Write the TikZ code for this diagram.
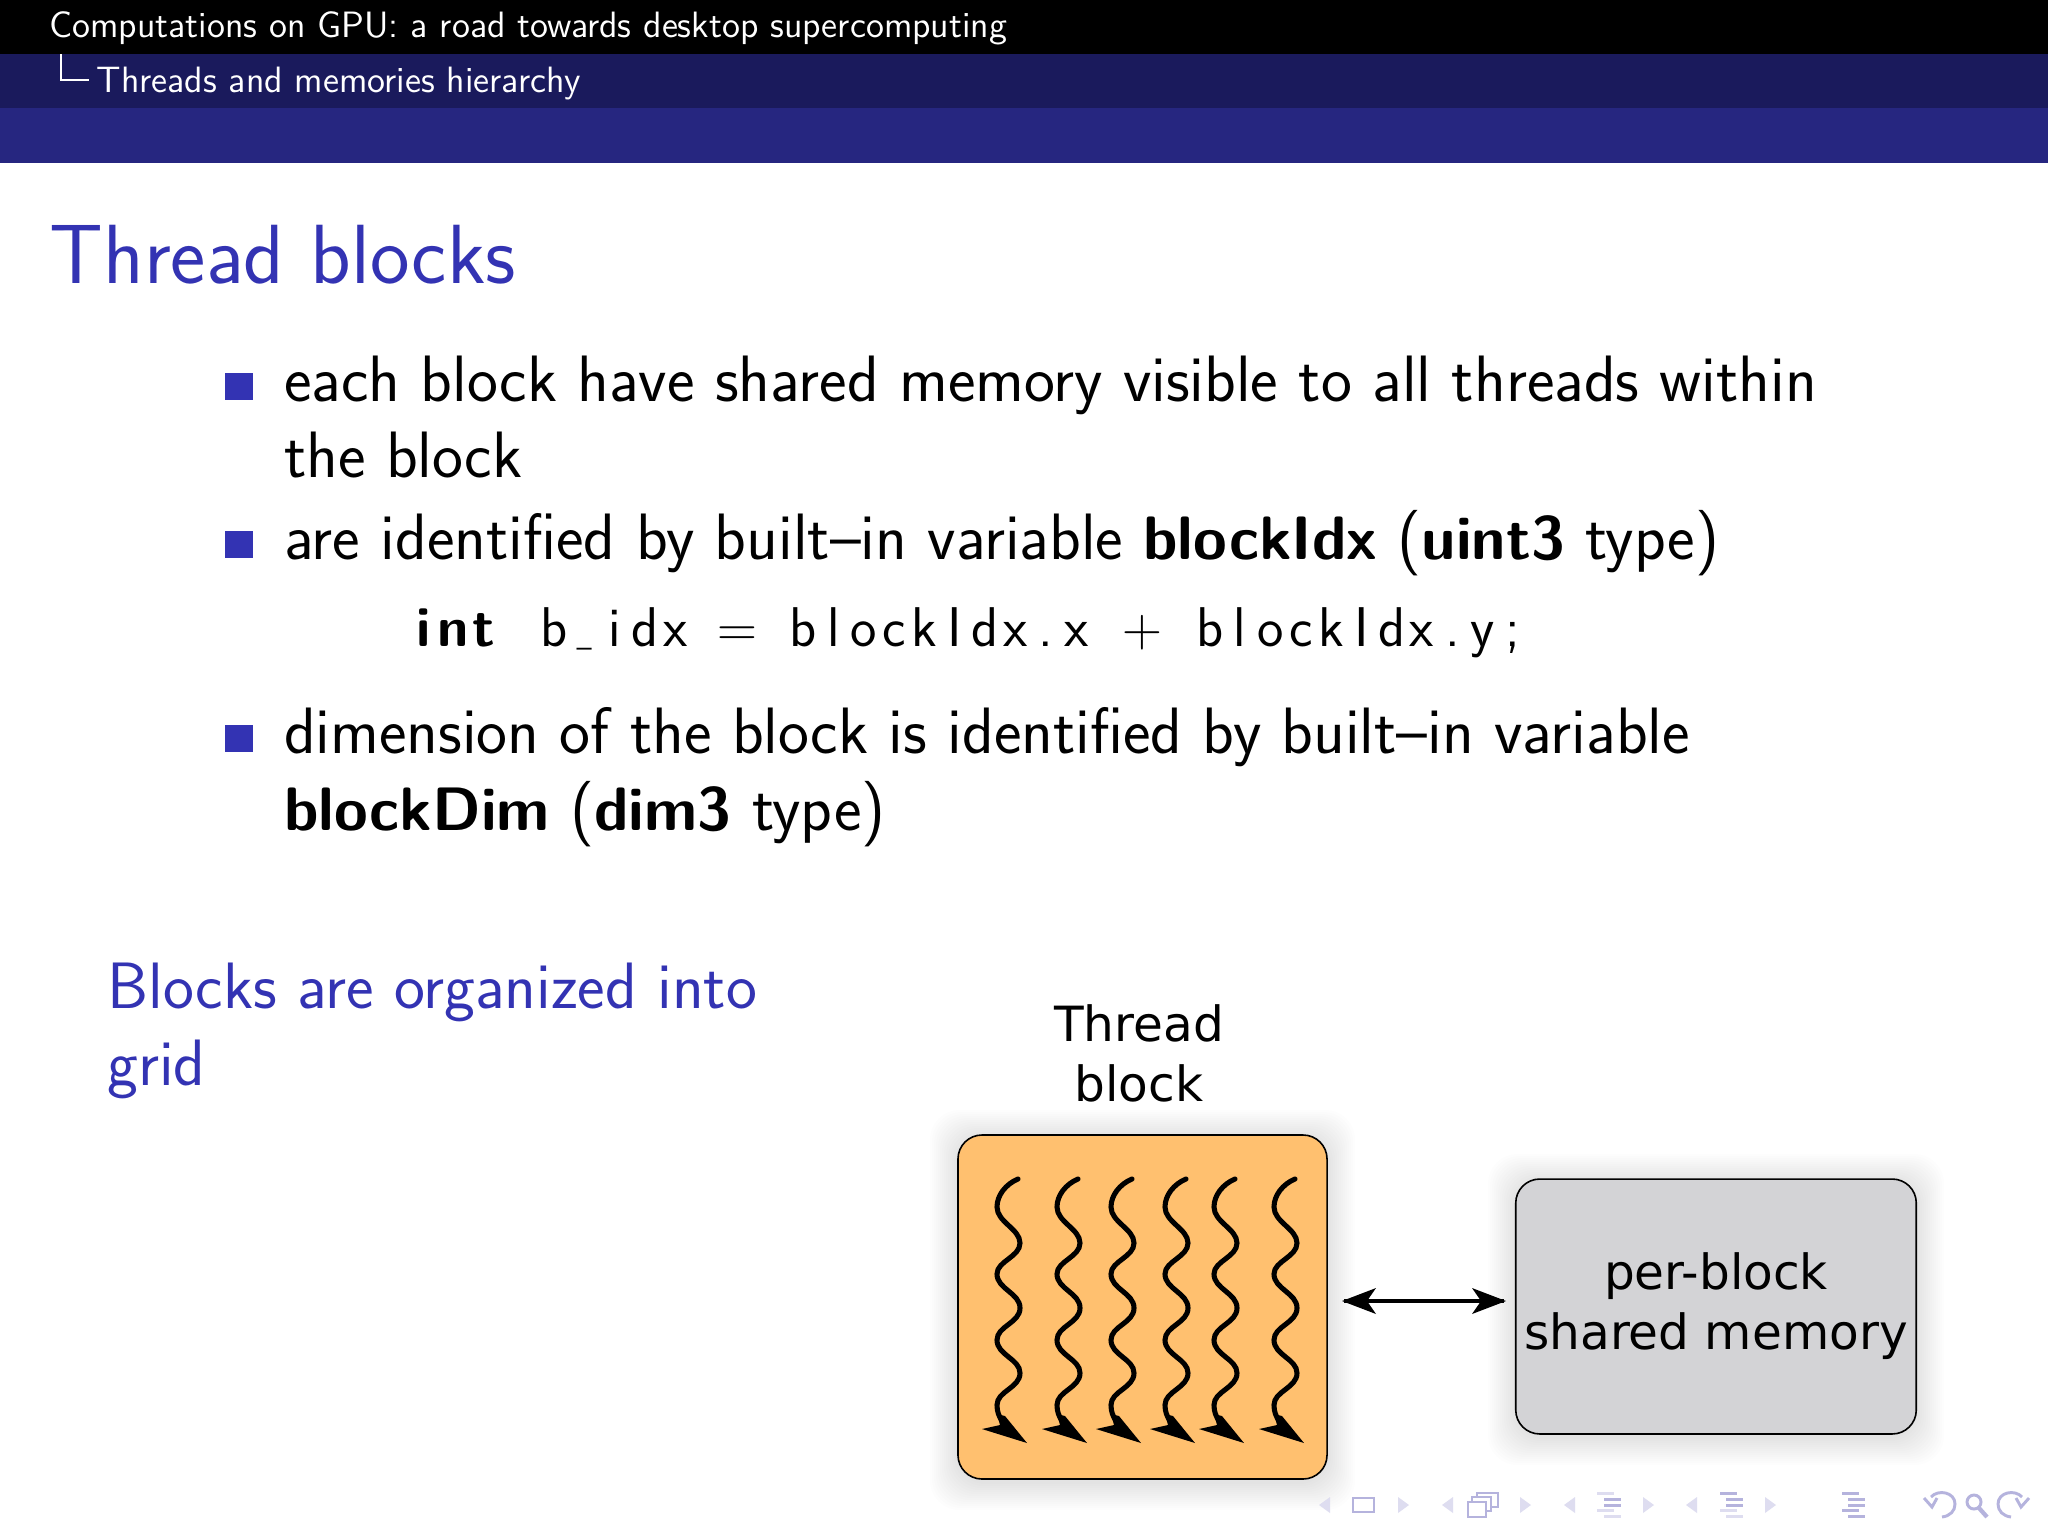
\documentclass[tikz,border=0pt]{standalone}
\usepackage{fontspec}
\newfontfamily\dejavu{DejaVu Sans}
\definecolor{titleblue}{RGB}{51,51,179}
\definecolor{hdrmid}{RGB}{26,26,92}
\definecolor{hdrblue}{RGB}{38,38,128}
\definecolor{boxorange}{RGB}{255,192,111}
\definecolor{boxgray}{RGB}{211,211,214}
\definecolor{navmid}{RGB}{181,179,221}
\definecolor{navlight}{RGB}{222,221,240}
\def\cwend{\cwend}
\def\cw#1{\ifx#1\cwend\else\makebox[11.37pt][c]{#1}\expandafter\cw\fi}
\newcommand{\bb}[1]{{\fontsize{23}{23}\selectfont\bfseries #1}}
\tikzset{
  x=0.375pt,y=-0.375pt,
  hdrtext/.style={anchor=base west,inner sep=0pt,text=white,font=\sffamily\fontsize{13.75}{13.75}\selectfont},
  titletext/.style={anchor=base west,inner sep=0pt,text=titleblue,font=\sffamily\fontsize{31.5}{31.5}\selectfont},
  bodytext/.style={anchor=base west,inner sep=0pt,text=black,font=\sffamily\fontsize{24.6}{24.6}\selectfont},
  codetext/.style={anchor=base west,inner sep=0pt,text=black,font=\sffamily\fontsize{21}{21}\selectfont},
  bluetext/.style={anchor=base west,inner sep=0pt,text=titleblue,font=\sffamily\fontsize{24.6}{24.6}\selectfont},
  bulletsq/.style={fill=titleblue},
  boxlabel/.style={align=center,inner sep=0pt,text=black,font=\dejavu\fontsize{18.2}{22.5}\selectfont},
  roundbox/.style={draw=black,line width=0.6pt,rounded corners=9pt,inner sep=0pt},
  softshadow/.style={fill=black,opacity=0.006},
  threadline/.style={line width=1.9pt,line cap=round},
  dblarrow/.style={line width=1.4pt},
  navline/.style={line width=1.1pt},
  navfill/.style={fill=navmid},
  navfaint/.style={fill=navlight},
}
\begin{document}
\begin{tikzpicture}
\useasboundingbox (0,0) rectangle (2048,1536);
\fill[white] (0,0) rectangle (2048,1536);
% header bands
\fill[black] (0,0) rectangle (2048,54);
\fill[hdrmid] (0,54) rectangle (2048,108);
\fill[hdrblue] (0,108) rectangle (2048,163);
\node[hdrtext] (h1) at (49,37.5) {Computations on GPU: a road towards desktop supercomputing};
\node[hdrtext] (h2) at (96,92) {Threads and memories hierarchy};
\draw[white,line width=0.6pt] (61,54) -- (61,80) -- (89,80);
% title
\node[titletext] (title) at (49,283) {Thread blocks};
% bullets
\fill[bulletsq] (225,373) rectangle (253,400);
\fill[bulletsq] (225,531) rectangle (253,558);
\fill[bulletsq] (225,725) rectangle (253,752);
\node[bodytext] (l1) at (283.5,401) {each block have shared memory visible to all threads within};
\node[bodytext] (l2) at (283.5,477) {the block};
\node[bodytext] (l3) at (283.5,559) {are identified by built–in variable \bb{blockIdx} (\bb{uint3} type)};
\node[codetext] (code) at (407.5,646) {{\bfseries\cw int\cwend}\hspace*{14.9pt}\cw b{\footnotesize\_}idx\cwend\hspace*{12pt}\cw{$=$}\cwend\hspace*{13.4pt}\cw blockIdx.x\cwend\hspace*{13.4pt}\cw{$+$}\cwend\hspace*{13.9pt}\cw blockIdx.y;\cwend};
\node[bodytext] (l4) at (283.5,753.5) {dimension of the block is identified by built–in variable};
\node[bodytext] (l5) at (283.5,830) {\bb{blockDim} (\bb{dim3} type)};
\node[bluetext] (g1) at (107,1008.5) {Blocks are organized into};
\node[bluetext] (g2) at (107,1085.5) {grid};
% soft shadows
\foreach \i in {1,...,14}{
  \fill[softshadow,rounded corners=11pt] (958-2*\i,1135-2*\i+3) rectangle (1327+2*\i,1479+2*\i+3);
  \fill[softshadow,rounded corners=11pt] (1516-2*\i,1180-2*\i+2) rectangle (1916+2*\i,1435+2*\i+2);
}
% boxes
\node[roundbox,fill=boxorange,minimum width=138.4pt,minimum height=129pt] (block) at (1142.5,1307) {};
\node[roundbox,fill=boxgray,minimum width=150.2pt,minimum height=95.6pt,boxlabel] (mem) at (1716,1306.5) {per-block\\shared memory};
\node[boxlabel] (blocklabel) at (1139,1053) {Thread\\block};
% threads
\foreach \o in {0,60,114,168,217,277}{
  \begin{scope}[shift={(\o,0)}]
    \draw[threadline] (1018,1179) .. controls (1006,1184) and (997,1195) .. (997,1207)
      .. controls (997,1222) and (1020,1229) .. (1020,1243)
      .. controls (1020,1257) and (997,1261) .. (997,1274)
      .. controls (997,1289) and (1020,1293) .. (1020,1308)
      .. controls (1020,1323) and (997,1326) .. (997,1340)
      .. controls (997,1355) and (1020,1359) .. (1020,1373)
      .. controls (1020,1388) and (997,1391) .. (997,1405)
      .. controls (997,1412) and (999,1416) .. (1002,1421);
    \fill[black] (1005,1416) -- (1027,1443) -- (982,1429) -- (1000,1425) -- (997,1414) -- cycle;
  \end{scope}
}
% double arrow
\coordinate (arrowy) at (0,1301);
\draw[dblarrow,shorten <=6pt,shorten >=4pt] (block.east |- arrowy) -- (mem.west |- arrowy);
\coordinate (aL) at (1342,1301);
\coordinate (aR) at (1506,1301);
\fill[black] (aL) -- (1376,1288) -- (1367,1301) -- (1376,1314) -- cycle;
\fill[black] (aR) -- (1472,1288) -- (1481,1301) -- (1472,1314) -- cycle;
% navigation symbols
\foreach \a/\b in {1319/1330,1442/1453,1564/1575,1686/1697}{
  \fill[navfaint] (\b,1497) -- (\a,1505) -- (\b,1513) -- cycle;
}
\foreach \a/\b in {1398/1409,1520/1531,1643/1654,1765/1776}{
  \fill[navfaint] (\a,1497) -- (\b,1505) -- (\a,1513) -- cycle;
}
\draw[navmid,navline] (1353,1498) rectangle (1374,1512);
\draw[navmid,navline] (1468,1502) rectangle (1486,1517);
\draw[navmid,navline] (1472,1502) -- (1472,1497) -- (1491,1497) -- (1491,1511) -- (1486,1511);
\draw[navmid,navline] (1477,1497) -- (1477,1493) -- (1498,1493) -- (1498,1507) -- (1491,1507);
% section lines
\fill[navfaint] (1597,1492) rectangle (1614,1495);
\fill[navfill] (1604,1498) rectangle (1621,1501);
\fill[navfill] (1604,1504) rectangle (1621,1507);
\fill[navfaint] (1597,1509) rectangle (1614,1512);
\fill[navfaint] (1604,1515) rectangle (1621,1518);
\fill[navfill] (1720,1492) rectangle (1737,1495);
\fill[navfill] (1726,1498) rectangle (1743,1501);
\fill[navfill] (1726,1504) rectangle (1743,1507);
\fill[navfaint] (1720,1509) rectangle (1737,1512);
\fill[navfaint] (1726,1515) rectangle (1743,1518);
\fill[navfill] (1842,1492) rectangle (1859,1495);
\fill[navfill] (1848,1498) rectangle (1865,1501);
\fill[navfill] (1848,1504) rectangle (1865,1507);
\fill[navfill] (1842,1509) rectangle (1859,1512);
\fill[navfill] (1848,1515) rectangle (1865,1518);
% undo, search, redo
\draw[navmid,navline] (1931,1497) .. controls (1938,1489) and (1955,1492) .. (1955,1504) .. controls (1955,1511) and (1950,1516) .. (1942,1517);
\draw[navmid,navline] (1924,1498) -- (1932,1507) -- (1937,1498);
\draw[navmid,navline] (1974,1502) circle[radius=7];
\draw[navmid,line width=1.6pt] (1979,1508) -- (1987,1517);
\draw[navmid,navline] (2022,1497) .. controls (2015,1489) and (1998,1492) .. (1998,1504) .. controls (1998,1511) and (2003,1516) .. (2011,1517);
\draw[navmid,navline] (2029,1498) -- (2021,1507) -- (2016,1498);
\end{tikzpicture}
\end{document}
